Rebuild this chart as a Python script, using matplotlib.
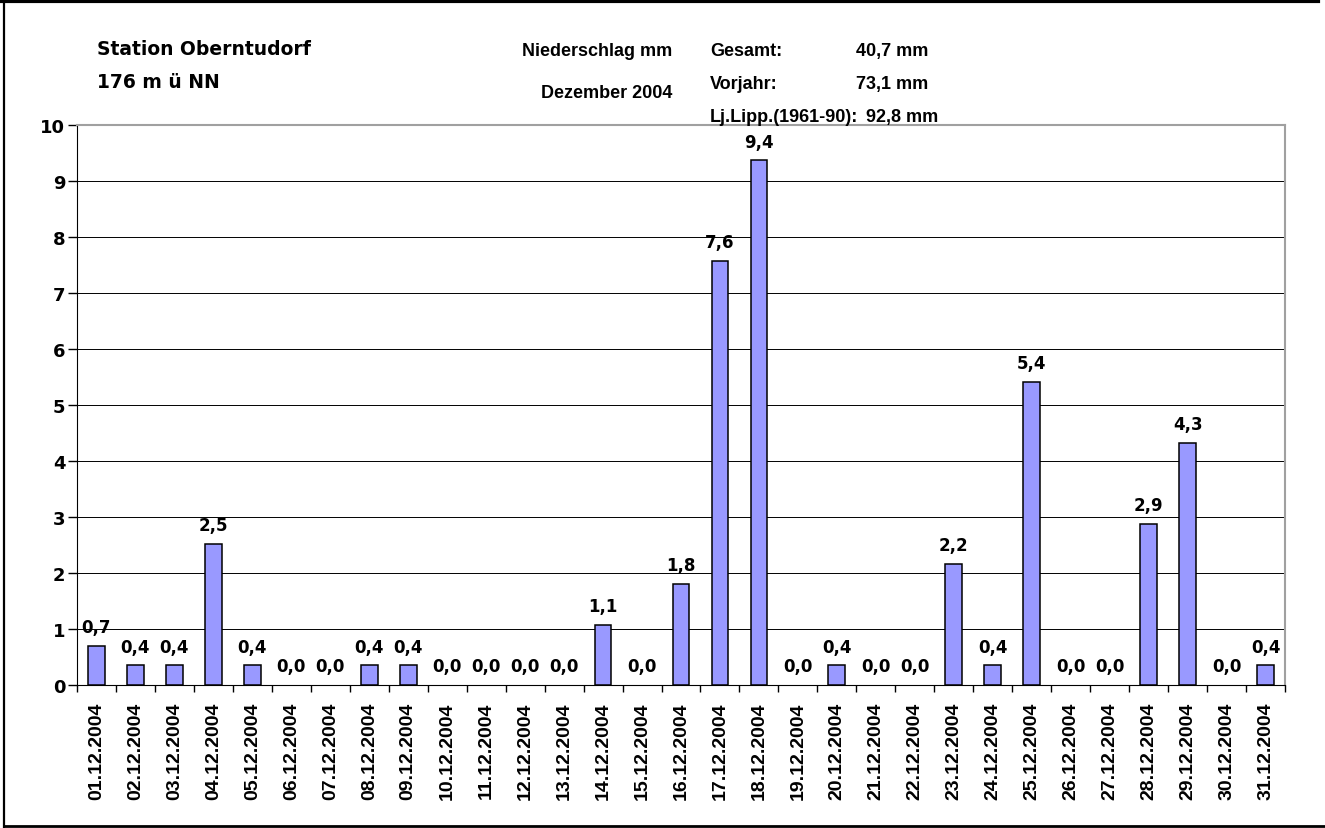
import matplotlib
matplotlib.use("Agg")
import matplotlib.pyplot as plt
from matplotlib.lines import Line2D
import numpy as np

# Niederschlag Dezember 2004 (mm)
days = ["%02d.12.2004" % d for d in range(1, 32)]
rain = [0.7, 0.35, 0.35, 2.52, 0.35, 0.0, 0.0, 0.35, 0.35, 0.0,
        0.0, 0.0, 0.0, 1.07, 0.0, 1.8, 7.57, 9.37, 0.0, 0.35,
        0.0, 0.0, 2.16, 0.35, 5.41, 0.0, 0.0, 2.88, 4.33, 0.0, 0.35]
yticks = list(range(0, 11))

W, H = 1325, 829
fig = plt.figure(figsize=(W / 100, H / 100), dpi=100)
fig.patch.set_facecolor("white")

def fx(px):
    return px / W

def fy(py):
    return 1 - py / H

ax = fig.add_axes([fx(77), fy(686), fx(1285) - fx(77), fy(126) - fy(686)])

x = np.arange(len(rain)) + 0.5
edges = ["black" if v > 0 else "none" for v in rain]
ax.bar(x, rain, width=0.43, color="#9999FF", edgecolor=edges, linewidth=1.1, zorder=3)

for xi, v in zip(x, rain):
    lbl = ("%.1f" % (v + 1e-6)).replace(".", ",")
    ax.annotate(lbl, (xi, v), xytext=(0, 7), textcoords="offset points",
                ha="center", va="bottom", fontsize=12, fontweight="bold",
                family="DejaVu Sans")

ax.set_xlim(0, len(rain))
ax.set_ylim(0, 10)
ax.set_yticks(yticks)
ax.set_yticklabels([str(t) for t in yticks], fontsize=13, fontweight="bold")
ax.tick_params(axis="y", direction="out", length=6.5, width=1, pad=2)

ax.set_xticks(np.arange(len(rain) + 1))
ax.set_xticklabels([])
ax.tick_params(axis="x", which="major", direction="out", length=5, width=1)
ax.set_xticks(x, minor=True)
ax.set_xticklabels(days, minor=True, rotation=90, fontsize=14, fontweight="bold",
                   family="Liberation Sans", va="top")
ax.tick_params(axis="x", which="minor", length=0, pad=12)

ax.grid(axis="y", color="black", linewidth=0.7, zorder=0)
ax.set_axisbelow(True)
ax.spines["left"].set_color("black")
ax.spines["bottom"].set_color("black")
ax.spines["top"].set_color("#a0a0a0")
ax.spines["right"].set_color("#a0a0a0")
ax.spines["top"].set_linewidth(1.5)
ax.spines["right"].set_linewidth(1.5)

# outer frame
fig.add_artist(Line2D([0, fx(1318)], [fy(1.5), fy(1.5)], color="black", linewidth=3))
fig.add_artist(Line2D([fx(4), fx(4)], [fy(0), fy(828)], color="black", linewidth=1.6))
fig.add_artist(Line2D([fx(4), fx(1325)], [fy(827), fy(827)], color="black", linewidth=2))

left_font = dict(fontsize=13.5, fontweight="bold", family="DejaVu Sans", va="baseline")
fig.text(fx(97), fy(55), "Station Oberntudorf", **left_font)
fig.text(fx(97), fy(88), "176 m ü NN", **left_font)

narrow = dict(fontsize=13, fontweight="bold", family="Liberation Sans", va="baseline")
fig.text(fx(672), fy(56), "Niederschlag mm", ha="right", **narrow)
fig.text(fx(672), fy(98), "Dezember 2004", ha="right", **narrow)
fig.text(fx(710), fy(56), "Gesamt:", **narrow)
fig.text(fx(710), fy(89), "Vorjahr:", **narrow)
fig.text(fx(710), fy(122), "Lj.Lipp.(1961-90):", **narrow)
fig.text(fx(928), fy(56), "40,7 mm", ha="right", **narrow)
fig.text(fx(928), fy(89), "73,1 mm", ha="right", **narrow)
fig.text(fx(938), fy(122), "92,8 mm", ha="right", **narrow)

fig.savefig("out.png", dpi=100)
